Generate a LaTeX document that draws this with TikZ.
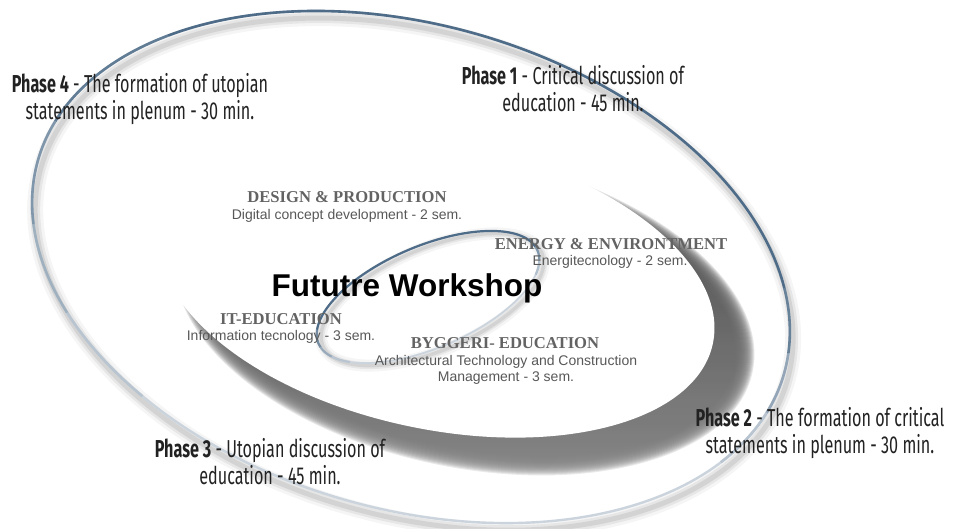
\documentclass[tikz,border=0pt]{standalone}
\usepackage{fontspec}
\setmainfont{Liberation Sans}
\newfontfamily\phasefont[FakeStretch=0.66]{Fira Sans}
\newfontfamily\headfont{Liberation Serif}
\definecolor{ring}     {HTML}{4E6C88}
\definecolor{ringlight}{HTML}{CBD4DD}
\definecolor{ink}      {HTML}{222222}
\definecolor{headgray} {HTML}{636363}
\definecolor{subgray}  {HTML}{585858}
\definecolor{shade}    {HTML}{262626}

\begin{document}
\begin{tikzpicture}[
  x=1pt, y=1pt,
  phase/.style={font=\phasefont\fontsize{24.5}{27.5}\selectfont, text=ink,
                align=center, inner sep=0pt, anchor=north},
  head/.style ={font=\headfont\bfseries\fontsize{16.6}{18}\selectfont,
                text=headgray, inner sep=0pt, anchor=base},
  sub/.style  ={font=\fontsize{14}{16}\selectfont, text=subgray,
                inner sep=0pt, anchor=base},
  title/.style={font=\bfseries\fontsize{31.5}{36}\selectfont, text=black,
                inner sep=0pt, anchor=base},
]
  \useasboundingbox[fill=white] (0,0) rectangle (959,-528);

  % --- outer ring: soft shadow, pale tube, blue upper arc -------
  \begin{scope}[shift={(411,-267)}, rotate=-16]
    \foreach \w/\o in {16/0.04, 10/0.06, 5/0.08}
      \draw[black, line width=\w, opacity=\o] (5,-6) ellipse[x radius=388, y radius=242];
    \draw[ringlight, line width=2.4] (0,0) ellipse[x radius=388, y radius=242];
    \foreach \s/\e/\p in {-25/-10/15, -10/5/45, 5/20/80, 20/140/100,
                          140/170/85, 170/195/60, 195/215/35, 215/235/15}
      \draw[ring!\p!ringlight, line width=2.6]
        (\s:388 and 242) arc[start angle=\s, end angle=\e, x radius=388, y radius=242];
  \end{scope}

  % --- shadow under the disc, built up in soft layers ----------
  \foreach \k in {0,...,19}
    \fill[shade, opacity=0.085, rotate around={-12:(465,-311)}]
      (465,-311) ellipse[x radius={275+\k}, y radius={137+\k}];

  % --- white disc ----------------------------------------------
  \fill[white, rotate around={-12:(437,-285)}]
    (437,-285) ellipse[x radius=282, y radius=144];

  % --- inner ring ----------------------------------------------
  \begin{scope}[shift={(428,-297)}, rotate=23]
    \foreach \w/\o in {12/0.04, 7/0.06, 3.5/0.08}
      \draw[black, line width=\w, opacity=\o] (3,-4) ellipse[x radius=119, y radius=51];
    \draw[ringlight, line width=1.8] (0,0) ellipse[x radius=119, y radius=51];
    \foreach \s/\e/\p in {-25/-10/20, -10/5/60, 5/165/100,
                          165/185/70, 185/200/40, 200/215/15}
      \draw[ring!\p!ringlight, line width=2.2]
        (\s:119 and 51) arc[start angle=\s, end angle=\e, x radius=119, y radius=51];
  \end{scope}

  % --- centre and the four educations --------------------------
  \node[title] (fw) at (407,-296) {Fututre Workshop};

  \node[head] (dp)    at (347,-202) {DESIGN \& PRODUCTION};
  \node[sub]  (dpsub) at (347,-219) {Digital concept development - 2 sem.};

  \node[head] (ee)    at (611,-249) {ENERGY \& ENVIRONTMENT};
  \node[sub]  (eesub) at (610,-265) {Energitecnology - 2 sem.};

  \node[head] (it)    at (281,-324) {IT-EDUCATION};
  \node[sub]  (itsub) at (281,-340) {Information tecnology - 3 sem.};

  \node[head] (by)    at (505,-348) {BYGGERI- EDUCATION};
  \node[sub]  (bysub) at (506,-365) {Architectural Technology and Construction};
  \node[sub]  (bysub2) at (506,-381) {Management - 3 sem.};

  % --- the four phases round the rings -------------------------
  \node[phase] (ph1) at (573,-65)
    {\textbf{Phase 1} - Critical discussion of\\education - 45 min.};
  \node[phase] (ph2) at (820,-407)
    {\textbf{Phase 2} - The formation of critical\\statements in plenum - 30 min.};
  \node[phase] (ph3) at (270,-438)
    {\textbf{Phase 3} - Utopian discussion of\\education - 45 min.};
  \node[phase] (ph4) at (140,-73)
    {\textbf{Phase 4} - The formation of utopian\\statements in plenum - 30 min.};
\end{tikzpicture}
\end{document}
